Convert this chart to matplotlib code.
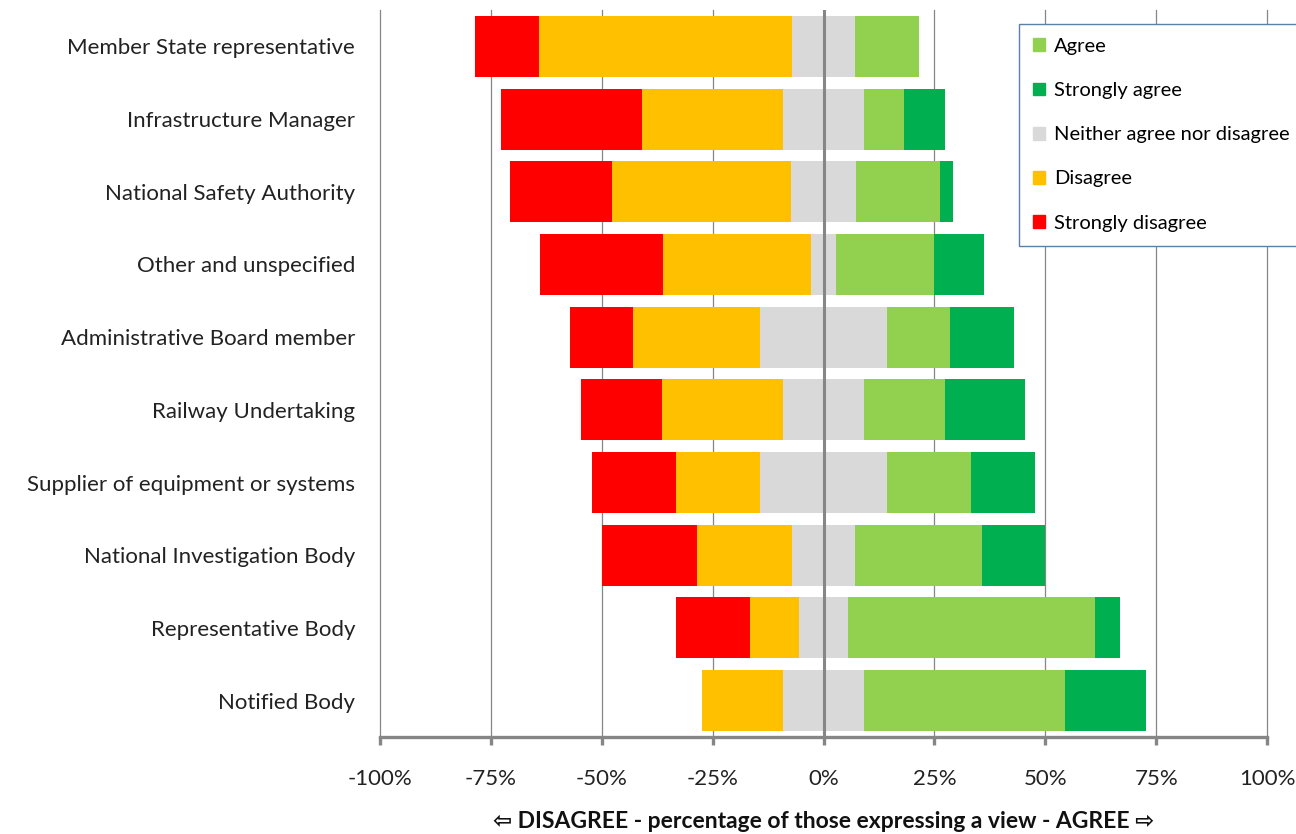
import matplotlib
matplotlib.use('Agg')
import matplotlib.pyplot as plt
from matplotlib.patches import Patch
import numpy as np

# groups, top to bottom
groups = ['Member State representative', 'Infrastructure Manager', 'National Safety Authority',
          'Other and unspecified', 'Administrative Board member', 'Railway Undertaking',
          'Supplier of equipment or systems', 'National Investigation Body',
          'Representative Body', 'Notified Body']

# percentages of those expressing a view
strongly_disagree = [14.3, 31.8, 23.0, 27.8, 14.3, 18.2, 19.0, 21.4, 16.7, 0.0]
disagree = [57.1, 31.8, 40.5, 33.3, 28.6, 27.3, 19.0, 21.4, 11.1, 18.2]
neither = [14.3, 18.2, 14.5, 5.6, 28.6, 18.2, 28.6, 14.3, 11.1, 18.2]
agree = [14.3, 9.1, 19.0, 22.2, 14.3, 18.2, 19.0, 28.6, 55.6, 45.4]
strongly_agree = [0.0, 9.1, 3.0, 11.1, 14.3, 18.2, 14.3, 14.3, 5.6, 18.2]

xticks = [-100, -75, -50, -25, 0, 25, 50, 75, 100]

c_sd, c_d, c_n, c_a, c_sa = '#FF0000', '#FFC000', '#D9D9D9', '#92D050', '#00B050'
grey = '#868686'

plt.rcParams['font.family'] = ['Lato', 'DejaVu Sans']

sd = np.array(strongly_disagree)
d = np.array(disagree)
n = np.array(neither)
a = np.array(agree)
sa = np.array(strongly_agree)
y = np.arange(len(groups))

fig = plt.figure(figsize=(12.96, 8.34), dpi=100)
ax = fig.add_axes([380/1296, 1 - 737/834, 887/1296, 727/834])

h = 0.84
ax.barh(y, n, left=-n/2, height=h, color=c_n, zorder=2)
ax.barh(y, -d, left=-n/2, height=h, color=c_d, zorder=2)
ax.barh(y, -sd, left=-n/2 - d, height=h, color=c_sd, zorder=2)
ax.barh(y, a, left=n/2, height=h, color=c_a, zorder=2)
ax.barh(y, sa, left=n/2 + a, height=h, color=c_sa, zorder=2)

ax.axvline(0, color=grey, lw=2.2, zorder=3)
for xt in xticks:
    if xt != 0:
        ax.axvline(xt, color=grey, lw=0.9, zorder=1, clip_on=False)

ax.set_xlim(-100, 100)
ax.set_ylim(len(groups) - 0.5, -0.5)
ax.set_xticks(xticks)
ax.set_xticklabels([f'{v}%' for v in xticks], fontsize=16, color='#222222')
ax.set_yticks(y)
ax.set_yticklabels(groups, fontsize=16, color='#222222')
ax.tick_params(axis='y', length=0, pad=18)
ax.tick_params(axis='x', direction='out', length=6, width=2.4, color=grey, pad=17)

for s in ['top', 'right', 'left']:
    ax.spines[s].set_visible(False)
ax.spines['bottom'].set_color(grey)
ax.spines['bottom'].set_linewidth(2.4)
ax.spines['bottom'].set_zorder(4)

ax.set_xlabel('\u21e6 DISAGREE - percentage of those expressing a view - AGREE \u21e8',
              fontsize=16.5, fontweight='bold', labelpad=16, color='#111111')

handles = [Patch(color=c_a, label='Agree'), Patch(color=c_sa, label='Strongly agree'),
           Patch(color=c_n, label='Neither agree nor disagree'),
           Patch(color=c_d, label='Disagree'), Patch(color=c_sd, label='Strongly disagree')]
leg = ax.legend(handles=handles, loc='upper left', bbox_to_anchor=(0.72, 0.981),
                fontsize=14.5, handlelength=0.6, handleheight=0.6, handletextpad=0.45,
                labelspacing=1.35, borderpad=0.7, borderaxespad=0, fancybox=False,
                framealpha=1)
leg.get_frame().set_edgecolor('#5B7FA6')
leg.get_frame().set_linewidth(1.0)
leg.set_zorder(5)

fig.savefig('out.png', dpi=100)
